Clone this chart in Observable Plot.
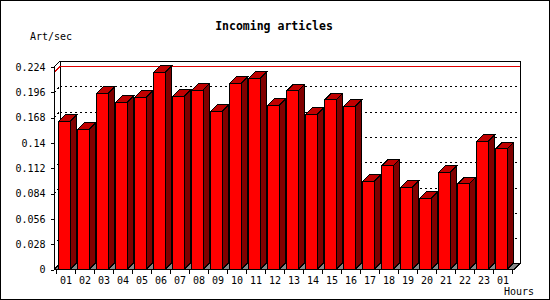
<!DOCTYPE html>
<html><head><meta charset="utf-8">
<script src="https://cdn.jsdelivr.net/npm/d3@7"></script>
<script src="https://cdn.jsdelivr.net/npm/@observablehq/plot@0.6"></script>
<style>
body{margin:0;background:#fff;}
#wrap{position:relative;width:550px;height:300px;overflow:hidden;background:#fff;}
#chart{position:absolute;left:0;top:0;}
#chart svg path, #chart svg line, #chart svg rect{shape-rendering:crispEdges;}
.border{position:absolute;left:0;top:0;width:548px;height:298px;border:1px solid #000;pointer-events:none;}
.lbl{position:absolute;font-family:"DejaVu Sans Mono",monospace;font-size:10px;color:#000;white-space:nowrap;line-height:12px;}
</style></head><body>
<div id="wrap">
  <div id="chart"></div>
  <div class="lbl" style="left:0;width:548px;text-align:center;top:20px;font-weight:bold;font-size:11.5px;line-height:13px">Incoming articles</div>
  <div class="lbl" style="left:30px;top:31px">Art/sec</div>
  <div class="lbl" style="left:504px;top:286px">Hours</div>
  <div class="border"></div>
</div>
<script>
const hours = ["01","02","03","04","05","06","07","08","09","10","11","12","13","14","15","16","17","18","19","20","21","22","23","01"];
const artPerSec = [0.164,0.155,0.195,0.185,0.1905,0.218,0.1915,0.1985,0.175,0.206,0.2115,0.1815,0.1975,0.1717,0.1875,0.1805,0.0976,0.1145,0.0909,0.0788,0.1075,0.0946,0.1418,0.1333];
const yTicks = [0,0.028,0.056,0.084,0.112,0.14,0.168,0.196,0.224];
const yTickLabels = ["0","0.028","0.056","0.084","0.112","0.14","0.168","0.196","0.224"];

const FRONT = "#ff0000", SIDE = "#800000", TOP = "#c00000", FLOOR = "#888888", MAXC = "#e00000";
const D = 6;     // wall depth (px)
const BD = 6.5;  // bar depth (px)
const IL = 2.7, IR = 4.9; // bar insets in band

const data = hours.map((h, i) => ({i, hour: h, value: artPerSec[i]}));
const maxVal = d3.max(artPerSec);

function bw(scales, dim) {
  return typeof scales.x.bandwidth === "function" ? scales.x.bandwidth() : (dim.width - dim.marginLeft - dim.marginRight) / hours.length;
}

function floorMark(index, scales, values, dim) {
  const g = d3.create("svg:g");
  const x0 = dim.marginLeft, x1 = dim.width - dim.marginRight;
  const y0 = scales.y(0);
  g.append("path").attr("fill", FLOOR).attr("stroke", "none")
    .attr("d", `M${x0},${y0}L${x1},${y0}L${x1+D},${y0-D}L${x0+D},${y0-D}Z`);
  return g.node();
}

function wallsMark(index, scales, values, dim) {
  const g = d3.create("svg:g").attr("fill", "none").attr("stroke", "#000");
  const x0 = dim.marginLeft, x1 = dim.width - dim.marginRight;
  const y0 = scales.y(0), yT = scales.y(yTicks[yTicks.length - 1]);
  for (const t of yTicks.slice(1, -1)) {
    const y = scales.y(t);
    g.append("path").attr("stroke-dasharray", "2,3").attr("d", `M${x0},${y}L${x0+D},${y-D}`);
  }
  g.append("path").attr("d", `M${x0+D},${yT-D}H${x1+D}V${y0-D}H${x0+D}Z`);
  g.append("path").attr("d", `M${x0},${yT}L${x0+D},${yT-D}M${x0},${y0}L${x0+D},${y0-D}M${x1},${y0}L${x1+D},${y0-D}`);
  const ym = scales.y(maxVal);
  g.append("path").attr("stroke", MAXC).attr("d", `M${x0},${ym}L${x0+D},${ym-D}`);
  return g.node();
}

function barSidesMark(index, scales, values, dim) {
  const g = d3.create("svg:g").attr("stroke", "#000").attr("stroke-width", 1);
  const w = bw(scales, dim);
  const yb = scales.y(0);
  data.forEach(d => {
    const xl = scales.x(d.i) + IL, xr = scales.x(d.i) + w - IR;
    const yv = scales.y(d.value);
    g.append("path").attr("fill", SIDE)
      .attr("d", `M${xr},${yv}L${xr+BD},${yv-BD}L${xr+BD},${yb-BD}L${xr},${yb}Z`);
    g.append("path").attr("fill", TOP)
      .attr("d", `M${xl},${yv}L${xl+BD},${yv-BD}L${xr+BD},${yv-BD}L${xr},${yv}Z`);
  });
  return g.node();
}

function frontAxesMark(index, scales, values, dim) {
  const g = d3.create("svg:g").attr("fill", "none").attr("stroke", "#000");
  const x0 = dim.marginLeft, x1 = dim.width - dim.marginRight;
  const y0 = scales.y(0), yT = scales.y(yTicks[yTicks.length - 1]);
  g.append("path").attr("d", `M${x0},${yT}V${y0}H${x1}`);
  const w = bw(scales, dim);
  let p = "";
  for (let i = 0; i <= hours.length; i++) {
    const xb = (i < hours.length ? scales.x(i) : scales.x(hours.length - 1) + w);
    p += `M${xb},${y0}v4`;
  }
  g.append("path").attr("d", p);
  return g.node();
}

const plot = Plot.plot({
  width: 550,
  height: 300,
  marginLeft: 54,
  marginRight: 36,
  marginTop: 67,
  marginBottom: 30.5,
  style: {fontFamily: "DejaVu Sans Mono, monospace", fontSize: "10px", background: "transparent", color: "#000", overflow: "visible"},
  x: {type: "band", domain: d3.range(hours.length), padding: 0, label: null, tickFormat: i => hours[i], tickSize: 0, tickPadding: 7},
  y: {domain: [0, 0.224], ticks: yTicks, tickFormat: d => yTickLabels[yTicks.indexOf(d)], label: null, tickSize: 3, tickPadding: 6},
  marks: [
    floorMark,
    Plot.ruleY(yTicks.slice(1, -1), {stroke: "#000", strokeDasharray: "2,3", dx: D, dy: -D}),
    wallsMark,
    Plot.ruleY([maxVal], {stroke: MAXC, dx: D, dy: -D}),
    barSidesMark,
    Plot.barY(data, {x: "i", y: "value", fill: FRONT, stroke: "#000", insetLeft: IL, insetRight: IR}),
    frontAxesMark
  ]
});
document.getElementById("chart").appendChild(plot);
</script>
</body></html>
